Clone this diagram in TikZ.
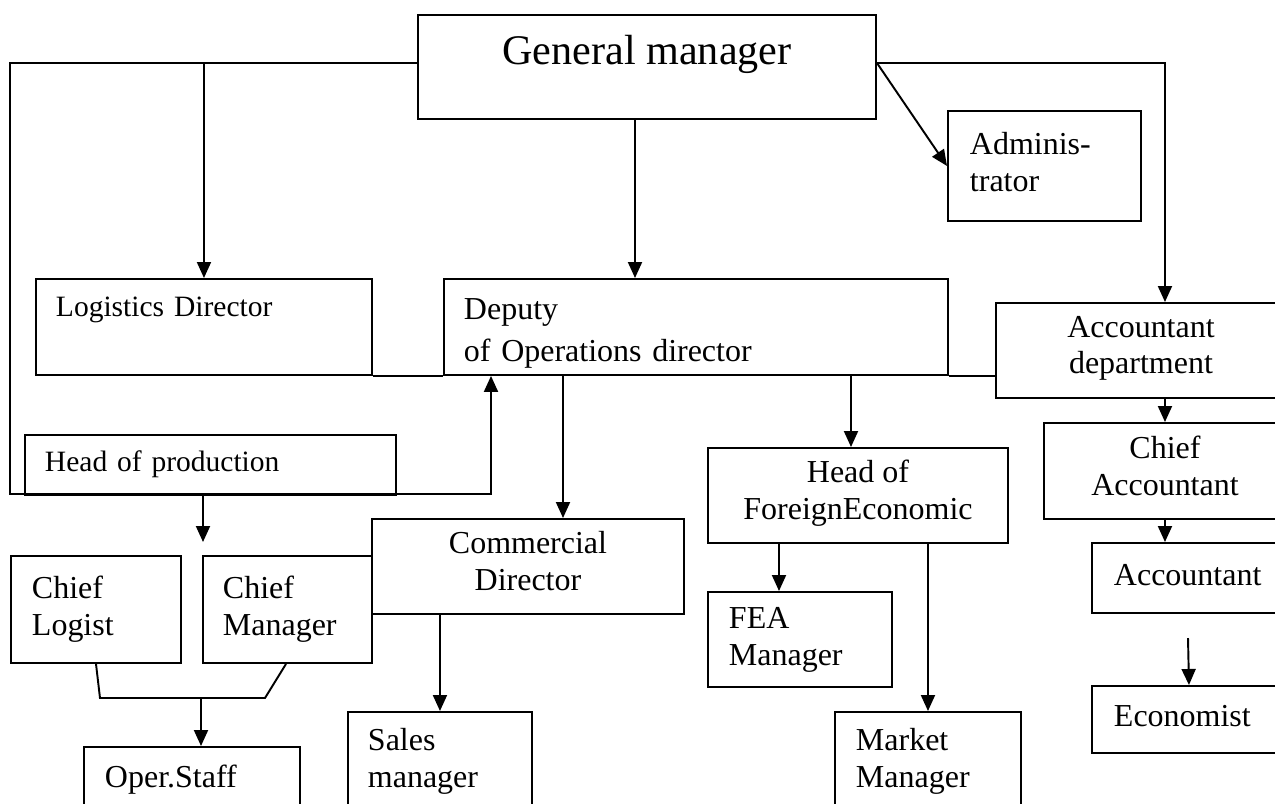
\documentclass[tikz,border=0pt]{standalone}
\usepackage{fontspec}
\setmainfont{Liberation Serif}
\usepackage{tikz}
\usetikzlibrary{arrows.meta}

\newcommand{\boxfont}{\fontsize{18.2}{21}\selectfont}
\newcommand{\prodfont}{\fontsize{16.8}{19.4}\selectfont}
\newcommand{\gmfont}{\fontsize{24}{29}\selectfont}

\tikzset{
  box/.style={draw, line width=1.1pt, inner sep=0pt, anchor=north west, font=\boxfont,
    execute at begin node=\strut, execute at end node=\strut},
  lbox/.style={box, align=left},
  cbox/.style={box, align=center},
}

\begin{document}
\begin{tikzpicture}[x=0.2mm, y=-0.2mm, line width=1.1pt, >={Triangle[length=3.2mm,width=2.8mm]}]
\useasboundingbox (0,0) rectangle (1275,803);
\clip (0,0) rectangle (1275,803);

\node[cbox, font=\gmfont, minimum width=91.6mm, minimum height=20.8mm, text height=5.8mm, text depth=6.6mm] (gm) at (417,14) {General manager};
\node[lbox, font=\prodfont, minimum width=67.2mm, minimum height=19.2mm, text width=59.2mm] (logdir) at (35,278) {Logistics Director\\};
\node[lbox, minimum width=100.8mm, minimum height=19.2mm, text width=92.8mm] (deputy) at (443,278) {\rule{0pt}{7.6mm}Deputy\\[1mm]of Operations director};
\node[lbox, minimum width=38.6mm, minimum height=22mm, text width=29.8mm] (admin) at (947,110) {Adminis-\\trator};
\node[cbox, minimum width=58mm, minimum height=19mm] (accdept) at (995,302) {Accountant\\department};
\node[lbox, font=\prodfont, minimum width=74.2mm, minimum height=12mm, text width=66.2mm] (headprod) at (24,434) {Head of production};
\node[cbox, minimum width=62.4mm, minimum height=19mm] (commdir) at (371,518) {Commercial\\Director};
\node[cbox, minimum width=60mm, minimum height=19mm] (hfe) at (707,447) {Head of\\ForeignEconomic};
\node[lbox, minimum width=34mm, minimum height=21.4mm, text width=25.6mm] (chieflog) at (10,555) {Chief\\Logist};
\node[lbox, minimum width=33.8mm, minimum height=21.4mm, text width=25.8mm] (chiefman) at (202,555) {Chief\\Manager};
\node[lbox, minimum width=36.8mm, minimum height=19mm, text width=28.4mm] (fea) at (707,591) {FEA\\Manager};
\node[cbox, minimum width=48.4mm, minimum height=19.2mm] (chiefacc) at (1043,422) {Chief\\Accountant};
\node[lbox, minimum width=38.8mm, minimum height=14mm, text width=30mm] (acc) at (1091,542) {Accountant};
\node[lbox, minimum width=38.8mm, minimum height=13.4mm, text width=30mm] (econ) at (1091,685) {Economist};
\node[lbox, minimum width=43.2mm, minimum height=13.4mm, text width=34.8mm] (oper) at (83,746) {Oper.Staff};
\node[lbox, minimum width=36.8mm, minimum height=20mm, text width=28.8mm] (sales) at (347,711) {Sales\\manager};
\node[lbox, minimum width=37.2mm, minimum height=20mm, text width=28.8mm] (market) at (834,711) {Market\\Manager};

\coordinate (prodtip) at (203,542);
\coordinate (staffjoin) at (201,698);
\coordinate (econtail) at (1188,638);

\draw[->] ([yshift=0.8mm]gm.west) -| (10,494) -| (deputy.south -| 491,0);
\draw[->] ([yshift=0.8mm]gm.west -| logdir.north) -- (logdir.north);
\draw[->] (gm.south -| 635,0) -- (deputy.north -| 635,0);
\draw[->] ([yshift=0.8mm]gm.east) -- (admin.west);
\draw[->] ([yshift=0.8mm]gm.east) -| (accdept.north -| chiefacc.north);
\draw (logdir.south east) -- (deputy.south west);
\draw (deputy.south east) -- (deputy.south east -| accdept.west);
\draw[->] (headprod.south -| prodtip) -- (prodtip);
\draw[->] (deputy.south -| 563,0) -- (commdir.north -| 563,0);
\draw[->] (deputy.south -| 851,0) -- (hfe.north -| 851,0);
\draw[->] (accdept.south -| chiefacc.north) -- (chiefacc.north);
\draw[->] (chiefacc.south) -- (acc.north -| chiefacc.south);
\draw[->] (econtail) -- (econ.north);
\draw[->] (hfe.south -| 779,0) -- (fea.north -| 779,0);
\draw[->] (hfe.south -| market.north) -- (market.north);
\draw[->] (commdir.south -| sales.north) -- (sales.north);
\draw (chieflog.south -| 96,0) -- (100,698) -- (265,698) -- (chiefman.south -| 286,0);
\draw[->] (staffjoin) -- (oper.north -| staffjoin);
\end{tikzpicture}
\end{document}
